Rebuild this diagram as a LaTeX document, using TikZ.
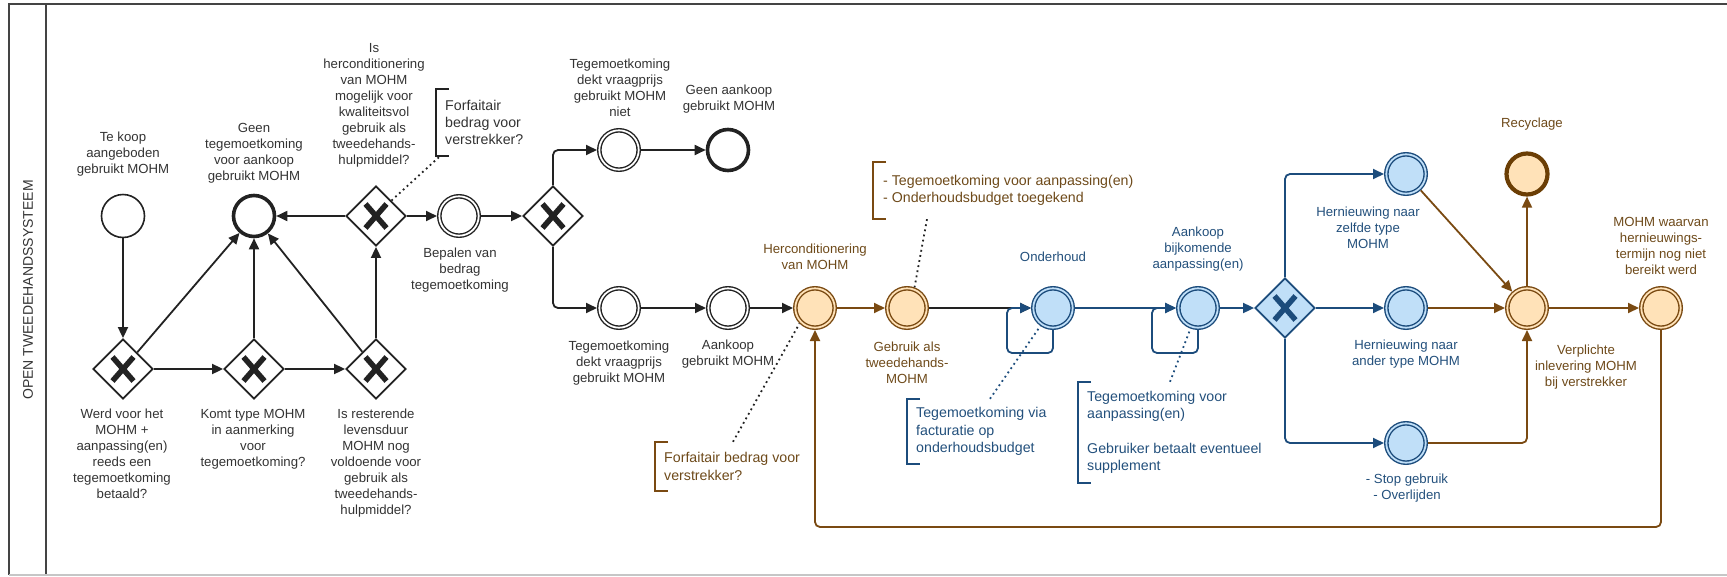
\documentclass[tikz,border=0pt]{standalone}
\usepackage{fontspec}
\setmainfont{Liberation Sans}
\usetikzlibrary{arrows.meta,shapes.geometric}
\definecolor{ink}{HTML}{222222}
\definecolor{txt}{HTML}{333333}
\definecolor{brn}{HTML}{7A4A12}
\definecolor{brndark}{HTML}{6B3E05}
\definecolor{brntxt}{HTML}{6E4A1A}
\definecolor{orfill}{HTML}{FFE2B8}
\definecolor{blu}{HTML}{1C4C7C}
\definecolor{blutxt}{HTML}{23507C}
\definecolor{blfill}{HTML}{C0DFF8}
\definecolor{framec}{HTML}{444444}
\begin{document}
\begin{tikzpicture}[x=1pt,y=-1pt,
  lbl/.style={font=\fontsize{13.2}{16}\selectfont, align=center, inner sep=0pt, text=txt},
  lblO/.style={lbl, text=brntxt},
  lblB/.style={lbl, text=blutxt},
  ann/.style={font=\fontsize{14.2}{17.3}\selectfont, align=left, anchor=west, inner xsep=9pt, inner ysep=0pt},
  brk/.style={line width=2.2pt},
  evt/.style={circle, minimum size=39.4pt, inner sep=0pt, line width=1.4pt, double distance=1.8pt, outer sep=2.3pt},
  evtK/.style={evt, draw=ink, fill=white, double=white},
  evtO/.style={evt, draw=brn, fill=orfill, double=orfill},
  evtB/.style={evt, draw=blu, fill=blfill, double=blfill},
  startK/.style={circle, minimum size=43pt, inner sep=0pt, draw=ink, line width=1.6pt, fill=white},
  endK/.style={circle, minimum size=41pt, inner sep=0pt, draw=ink, line width=3.6pt, fill=white},
  endO/.style={circle, minimum size=41pt, inner sep=0pt, draw=brndark, line width=4.2pt, fill=orfill},
  gwshape/.style={diamond, aspect=1, minimum width=60pt, minimum height=60pt, inner sep=0pt, line width=1.8pt},
  gw/.style={gwshape, draw=ink, fill=white,
    path picture={\draw[line width=5.5pt, ink] (path picture bounding box.center) ++(-10.5,-12) -- ++(21,24)
      (path picture bounding box.center) ++(10.5,-12) -- ++(-21,24);}},
  gwB/.style={gwshape, draw=blu, fill=blfill,
    path picture={\draw[line width=5.5pt, blu] (path picture bounding box.center) ++(-10.5,-12) -- ++(21,24)
      (path picture bounding box.center) ++(10.5,-12) -- ++(-21,24);}},
  arr/.style={-{Triangle[length=11pt,width=10pt]}, line width=1.8pt},
  kline/.style={arr, draw=ink},
  bline/.style={arr, draw=blu},
  oline/.style={arr, draw=brn},
  assocK/.style={draw=ink, line width=1.8pt, dash pattern=on 1.8pt off 3.4pt},
  assocB/.style={draw=blu, line width=1.8pt, dash pattern=on 1.8pt off 3.4pt},
]
\useasboundingbox (0,0) rectangle (1727,576);

% frame
\draw[framec, line width=2.2pt] (1727,4) -- (9,4) -- (9,575);
\draw[framec, line width=2.2pt] (46,4) -- (46,575);
\draw[gray!45, line width=1.5pt] (9,575) -- (1727,575);
\node[rotate=90, font=\fontsize{14}{16}\selectfont, text=txt] (title) at (28,290) {OPEN TWEEDEHANDSSYSTEEM};

% coordinates for routed connectors
\coordinate (o1loop) at (1007,353);
\coordinate (a2loop) at (1152,353);
\coordinate (ret) at (0,527);

% nodes
\node[startK] (s1) at (123,216) {};
\node[endK] (e1) at (254,216) {};
\node[gw] (g4) at (376,216) {};
\node[gw] (g1) at (123,369) {};
\node[gw] (g2) at (254,369) {};
\node[gw] (g3) at (376,369) {};
\node[evtK] (b1) at (459,216) {};
\node[gw] (g5) at (553,216) {};
\node[evtK] (t1) at (619,150) {};
\node[endK] (e2) at (728,150) {};
\node[evtK] (t2) at (619,308) {};
\node[evtK] (a1) at (728,308) {};
\node[evtO] (h1) at (815,308) {};
\node[evtO] (u1) at (907,308) {};
\node[evtB] (o1) at (1053,308) {};
\node[evtB] (a2) at (1198,308) {};
\node[gwB] (g6) at (1285,308) {};
\node[evtB] (r1) at (1406,174) {};
\node[evtB] (r2) at (1406,308) {};
\node[evtB] (r3) at (1406,443) {};
\node[endO] (e3) at (1527,174) {};
\node[evtO] (v1) at (1527,308) {};
\node[evtO] (m1) at (1661,308) {};

% connectors
\draw[kline] (s1) -- (g1);
\draw[kline] (g1) -- (g2);
\draw[kline] (g2) -- (g3);
\draw[kline] (g1) -- (e1);
\draw[kline] (g2) -- (e1);
\draw[kline] (g3) -- (e1);
\draw[kline] (g3) -- (g4);
\draw[kline] (g4) -- (e1);
\draw[kline] (g4) -- (b1);
\draw[kline] (b1) -- (g5);
\draw[kline, rounded corners=5pt] (g5.north) |- (t1);
\draw[kline, rounded corners=5pt] (g5.south) |- (t2);
\draw[kline] (t1) -- (e2);
\draw[kline] (t2) -- (a1);
\draw[kline] (a1) -- (h1);
\draw[oline] (h1) -- (u1);
\draw[kline] (u1) -- (o1);
\draw[bline, rounded corners=5pt] (o1.south) |- (o1loop) |- (o1.west);
\draw[bline] (o1) -- (a2);
\draw[bline, rounded corners=5pt] (a2.south) |- (a2loop) |- (a2.west);
\draw[bline] (a2) -- (g6);
\draw[bline, rounded corners=5pt] (g6.north) |- (r1);
\draw[bline] (g6) -- (r2);
\draw[bline, rounded corners=5pt] (g6.south) |- (r3);
\draw[oline] (r1) -- (v1);
\draw[oline] (r2) -- (v1);
\draw[oline, rounded corners=5pt] (r3) -| (v1);
\draw[oline] (v1) -- (e3);
\draw[oline] (v1) -- (m1);
\draw[oline, rounded corners=5pt] (m1.south) -- (m1.south |- ret) -| (h1.south);

% annotations
\node[ann, text=txt, minimum height=67pt] (A1) at (436,122.5) {Forfaitair\\bedrag voor\\verstrekker?};
\draw[brk, ink] ([xshift=13pt]A1.north west) -- (A1.north west) -- (A1.south west) -- ([xshift=13pt]A1.south west);
\node[ann, text=brntxt, minimum height=49pt] (A2) at (655,466.5) {Forfaitair bedrag voor\\verstrekker?};
\draw[brk, brn] ([xshift=13pt]A2.north west) -- (A2.north west) -- (A2.south west) -- ([xshift=13pt]A2.south west);
\node[ann, text=brntxt, minimum height=57pt, inner xsep=10pt] (A3) at (873,190.5) {- Tegemoetkoming voor aanpassing(en)\\- Onderhoudsbudget toegekend};
\draw[brk, brn] ([xshift=13pt]A3.north west) -- (A3.north west) -- (A3.south west) -- ([xshift=13pt]A3.south west);
\node[ann, text=blutxt, minimum height=65pt] (A4) at (907,431.5) {Tegemoetkoming via\\facturatie op\\onderhoudsbudget};
\draw[brk, blu] ([xshift=13pt]A4.north west) -- (A4.north west) -- (A4.south west) -- ([xshift=13pt]A4.south west);
\node[ann, text=blutxt, minimum height=101pt] (A5) at (1078,432.5) {Tegemoetkoming voor\\aanpassing(en)\\[17.3pt]Gebruiker betaalt eventueel\\supplement};
\draw[brk, blu] ([xshift=13pt]A5.north west) -- (A5.north west) -- (A5.south west) -- ([xshift=13pt]A5.south west);

\draw[assocK] (g4.north east) -- ([xshift=4pt]A1.south west);
\draw[assocK] ([xshift=78pt]A2.north west) -- (h1.south west);
\draw[assocK] ([xshift=54pt]A3.south west) -- (u1.70);
\draw[assocB] ([xshift=83pt]A4.north west) -- (o1.235);
\draw[assocB] ([xshift=92pt]A5.north west) -- (a2.250);

% labels
\node[lbl] (L1) at (123,154) {Te koop\\aangeboden\\gebruikt MOHM};
\node[lbl] (L2) at (254,153.5) {Geen\\tegemoetkoming\\voor aankoop\\gebruikt MOHM};
\node[lbl] (L3) at (374,105.5) {Is\\herconditionering\\van MOHM\\mogelijk voor\\kwaliteitsvol\\gebruik als\\tweedehands-\\hulpmiddel?};
\node[lbl] (L4) at (122,454) {Werd voor het\\MOHM +\\aanpassing(en)\\reeds een\\tegemoetkoming\\betaald?};
\node[lbl] (L5) at (253,439.5) {Komt type MOHM\\in aanmerking\\voor\\tegemoetkoming?};
\node[lbl] (L6) at (376,463.5) {Is resterende\\levensduur\\MOHM nog\\voldoende voor\\gebruik als\\tweedehands-\\hulpmiddel?};
\node[lbl] (L7) at (460,270) {Bepalen van\\bedrag\\tegemoetkoming};
\node[lbl] (L8) at (620,87.5) {Tegemoetkoming\\dekt vraagprijs\\gebruikt MOHM\\niet};
\node[lbl] (L9) at (729,99.5) {Geen aankoop\\gebruikt MOHM};
\node[lbl] (L10) at (619,363) {Tegemoetkoming\\dekt vraagprijs\\gebruikt MOHM};
\node[lbl] (L11) at (728,354.5) {Aankoop\\gebruikt MOHM};
\node[lblO] (L12) at (815,256.5) {Herconditionering\\van MOHM};
\node[lblO] (L13) at (907,362.5) {Gebruik als\\tweedehands-\\MOHM};
\node[lblB] (L14) at (1053,257) {Onderhoud};
\node[lblB] (L15) at (1198,249) {Aankoop\\bijkomende\\aanpassing(en)};
\node[lblB] (L16) at (1368,228) {Hernieuwing naar\\zelfde type\\MOHM};
\node[lblB] (L17) at (1406,354.5) {Hernieuwing naar\\ander type MOHM};
\node[lblB] (L18) at (1407,488) {- Stop gebruik\\- Overlijden};
\node[lblO] (L19) at (1532,124) {Recyclage};
\node[lblO] (L20) at (1661,246) {MOHM waarvan\\hernieuwings-\\termijn nog niet\\bereikt werd};
\node[lblO] (L21) at (1586,367.5) {Verplichte\\inlevering MOHM\\bij verstrekker};
\end{tikzpicture}
\end{document}
